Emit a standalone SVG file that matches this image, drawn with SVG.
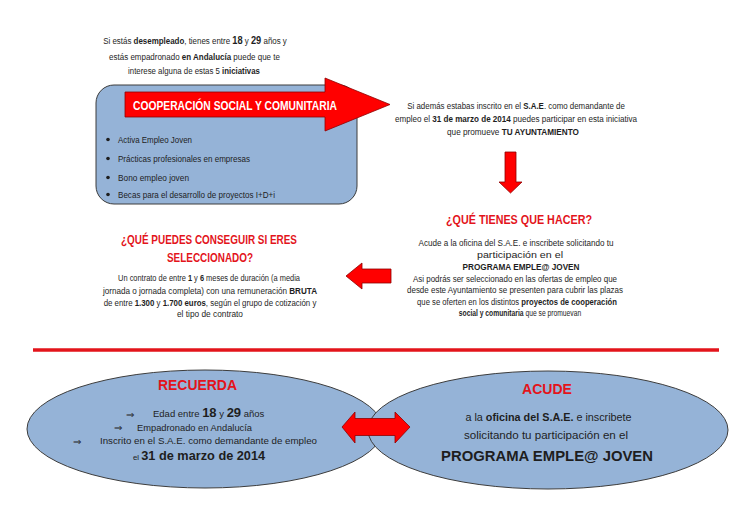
<svg xmlns="http://www.w3.org/2000/svg" width="750" height="530" viewBox="0 0 750 530">
<defs>
<style>
text{font-family:"Liberation Sans",Arial,sans-serif;fill:#1e1e1e;font-size:9px}
.c{text-anchor:middle}
.b{font-weight:bold}
.h{font-weight:bold;fill:#e3141b}
.arr{fill:#ff0000;stroke:#8e0000;stroke-width:0.8;stroke-linejoin:miter}
.blue{fill:#95b3d7;stroke:#3c3c3c;stroke-width:1}
.sym{font-family:"DejaVu Sans",sans-serif;font-size:10px}
</style>
</defs>
<rect width="750" height="530" fill="#ffffff"/>

<g id="intro">
<text class="c" transform="translate(195,44) scale(0.883,1)">Si estás <tspan class="b">desempleado</tspan>, tienes entre <tspan class="b" font-size="10.5">18</tspan> y <tspan class="b" font-size="10.5">29</tspan> años y</text>
<text class="c" transform="translate(194.5,59.5) scale(0.886,1)">estás empadronado <tspan class="b">en Andalucía</tspan> puede que te</text>
<text class="c" transform="translate(194,73.5) scale(0.871,1)">interese alguna de estas 5 <tspan class="b">iniciativas</tspan></text>
</g>

<g id="box-cooperacion">
<rect class="blue" x="96" y="85" width="261" height="119" rx="18" ry="18"/>
<path class="arr" d="M125,92 L325,92 L325,78 L390,104.5 L325,131 L325,117 L125,117 Z"/>
<text x="133" y="110" textLength="204" lengthAdjust="spacingAndGlyphs" style="font-weight:bold;fill:#ffffff;font-size:12.5px">COOPERACIÓN SOCIAL Y COMUNITARIA</text>
<circle cx="108" cy="139.5" r="1.8" fill="#1e1e1e"/>
<circle cx="108" cy="158.5" r="1.8" fill="#1e1e1e"/>
<circle cx="108" cy="177.5" r="1.8" fill="#1e1e1e"/>
<circle cx="108" cy="194.5" r="1.8" fill="#1e1e1e"/>
<text x="118" y="142.5" textLength="74" lengthAdjust="spacingAndGlyphs">Activa Empleo Joven</text>
<text x="118" y="161.5" textLength="132" lengthAdjust="spacingAndGlyphs">Prácticas profesionales en empresas</text>
<text x="118" y="180.5" textLength="71" lengthAdjust="spacingAndGlyphs">Bono empleo joven</text>
<text x="118" y="197.5" textLength="157" lengthAdjust="spacingAndGlyphs">Becas para el desarrollo de proyectos I+D+i</text>
</g>

<g id="info-sae">
<text class="c" transform="translate(516,109) scale(0.879,1)">Si además estabas inscrito en el <tspan class="b">S.A.E</tspan>. como demandante de</text>
<text class="c" transform="translate(516,122) scale(0.898,1)">empleo el <tspan class="b">31 de marzo de 2014</tspan> puedes participar en esta iniciativa</text>
<text class="c" transform="translate(513,135) scale(0.911,1)">que promueve <tspan class="b">TU AYUNTAMIENTO</tspan></text>
</g>

<g id="que-hacer">
<text class="c h" x="519" y="224" textLength="146" lengthAdjust="spacingAndGlyphs" style="font-size:12.5px">¿QUÉ TIENES QUE HACER?</text>
<text class="c" x="516" y="246" textLength="195" lengthAdjust="spacingAndGlyphs">Acude a la oficina del S.A.E. e inscribete solicitando tu</text>
<text class="c" x="520" y="258" textLength="86" lengthAdjust="spacingAndGlyphs">participación en el</text>
<text class="c b" x="521" y="270" textLength="117" lengthAdjust="spacingAndGlyphs">PROGRAMA EMPLE@ JOVEN</text>
<text class="c" x="515" y="281.5" textLength="204" lengthAdjust="spacingAndGlyphs">Asi podrás ser seleccionado en las ofertas de empleo que</text>
<text class="c" x="515" y="293" textLength="216" lengthAdjust="spacingAndGlyphs">desde este Ayuntamiento se presenten para cubrir las plazas</text>
<text class="c" transform="translate(517,304.5) scale(0.855,1)">que se oferten en los distintos <tspan class="b">proyectos de cooperación</tspan></text>
<text class="c" transform="translate(520,316) scale(0.75,1)"><tspan class="b">social y comunitaria</tspan> que se promuevan</text>
</g>

<g id="que-conseguir">
<text class="c h" x="209" y="244" textLength="176" lengthAdjust="spacingAndGlyphs" style="font-size:12.5px">¿QUÉ PUEDES CONSEGUIR SI ERES</text>
<text class="c h" x="210" y="261.5" textLength="86" lengthAdjust="spacingAndGlyphs" style="font-size:12.5px">SELECCIONADO?</text>
<text class="c" transform="translate(209,281) scale(0.827,1)">Un contrato de entre <tspan class="b">1</tspan> y <tspan class="b">6</tspan> meses de duración (a media</text>
<text class="c" transform="translate(210,293.5) scale(0.903,1)">jornada o jornada completa) con una remuneración <tspan class="b">BRUTA</tspan></text>
<text class="c" transform="translate(210,305.5) scale(0.874,1)">de entre <tspan class="b">1.300</tspan> y <tspan class="b">1.700 euros</tspan>, según el grupo de cotización y</text>
<text class="c" x="210" y="317" textLength="66" lengthAdjust="spacingAndGlyphs">el tipo de contrato</text>
</g>

<g id="divider">
<line x1="33" y1="350" x2="719" y2="350" stroke="#e3141b" stroke-width="3.5"/>
</g>

<g id="recuerda">
<ellipse class="blue" cx="205" cy="429" rx="178" ry="59"/>
<text class="c h" x="197.5" y="390" textLength="79" lengthAdjust="spacingAndGlyphs" style="font-size:14.5px">RECUERDA</text>
<text class="sym" x="126" y="417.5">⇒</text>
<text x="153" y="417" style="font-size:9.5px">Edad entre <tspan class="b" font-size="13">18</tspan> y <tspan class="b" font-size="13">29</tspan> años</text>
<text class="sym" x="114" y="431">⇒</text>
<text x="137" y="430.5" textLength="115" lengthAdjust="spacingAndGlyphs" style="font-size:9.5px">Empadronado en Andalucía</text>
<text class="sym" x="73" y="444.5">⇒</text>
<text x="100" y="444" textLength="217" lengthAdjust="spacingAndGlyphs" style="font-size:9.5px">Inscrito en el S.A.E. como demandante de empleo</text>
<text transform="translate(133,460) scale(0.98,1)"><tspan font-size="8">el </tspan><tspan class="b" font-size="13">31 de marzo de 2014</tspan></text>
</g>

<g id="acude">
<ellipse class="blue" cx="548" cy="430" rx="180" ry="59"/>
<text class="c h" x="547" y="394" textLength="50" lengthAdjust="spacingAndGlyphs" style="font-size:14.5px">ACUDE</text>
<text class="c" transform="translate(548.5,421) scale(1.03,1)" style="font-size:10.5px">a la <tspan class="b">oficina del S.A.E.</tspan> e inscribete</text>
<text class="c" x="546" y="439" textLength="164" lengthAdjust="spacingAndGlyphs" style="font-size:10.5px">solicitando tu participación en el</text>
<text class="c b" x="547" y="461" textLength="212" lengthAdjust="spacingAndGlyphs" style="font-size:15.5px">PROGRAMA EMPLE@ JOVEN</text>
</g>

<g id="connectors">
<path class="arr" d="M505,152 L516,152 L516,182 L522,182 L510.5,193 L499,182 L505,182 Z"/>
<path class="arr" d="M391,269 L391,283 L362,283 L362,289 L346,276 L362,263 L362,269 Z"/>
<path class="arr" d="M342,427 L355,412 L355,418.5 L395,418.5 L395,412 L410,427 L395,443 L395,435.5 L355,435.5 L355,443 Z"/>
</g>
</svg>
